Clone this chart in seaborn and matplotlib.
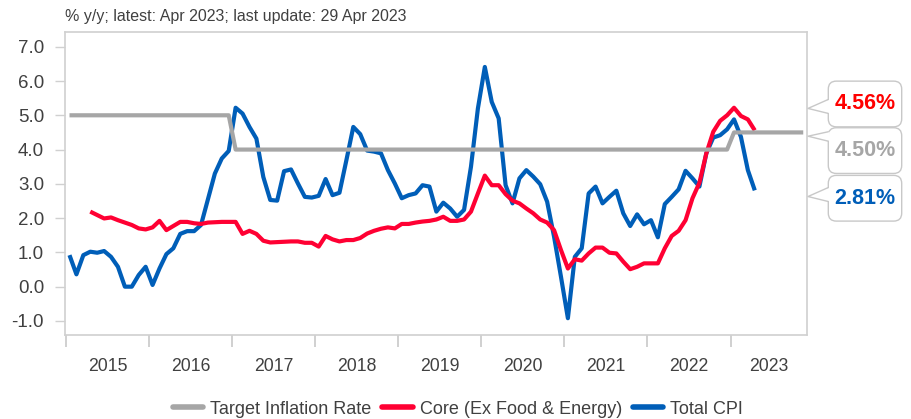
import numpy as np
import pandas as pd
import matplotlib
matplotlib.use('Agg')
import matplotlib.pyplot as plt
import seaborn as sns
from matplotlib.patches import FancyBboxPatch, Polygon
from matplotlib.lines import Line2D
from matplotlib.transforms import IdentityTransform

# monthly % y/y, Total CPI from Jan 2015, Core from Apr 2015, target from Jan 2015
total_cpi = [
    0.92, 0.36, 0.92, 1.02, 0.99, 1.04, 0.87, 0.58, 0.00, 0.00, 0.34, 0.58,
    0.05, 0.53, 0.95, 1.12, 1.54, 1.62, 1.62, 1.80, 2.55, 3.30, 3.74, 3.96,
    5.22, 5.05, 4.66, 4.32, 3.20, 2.53, 2.51, 3.37, 3.42, 3.01, 2.62, 2.60,
    2.65, 3.14, 2.67, 2.74, 3.69, 4.66, 4.45, 3.97, 3.94, 3.89, 3.40, 3.01,
    2.58, 2.67, 2.72, 2.96, 2.92, 2.19, 2.45, 2.28, 2.04, 2.24, 3.50, 5.20,
    6.41, 5.39, 4.91, 2.96, 2.43, 3.16, 3.40, 3.21, 2.99, 2.48, 1.46, 0.29,
    -0.92, 0.87, 1.12, 2.72, 2.92, 2.43, 2.62, 2.80, 2.14, 1.77, 2.11, 1.82,
    1.94, 1.44, 2.41, 2.62, 2.84, 3.38, 3.16, 2.92, 3.89, 4.35, 4.42, 4.59,
    4.88, 4.37, 3.40, 2.81,
]
core_cpi = [
    2.19, 2.09, 1.99, 2.02, 1.94, 1.87, 1.80, 1.70, 1.67,
    1.73, 1.92, 1.65, 1.77, 1.89, 1.89, 1.85, 1.83, 1.87, 1.88, 1.89, 1.89,
    1.89, 1.54, 1.63, 1.54, 1.34, 1.29, 1.30, 1.31, 1.32, 1.32, 1.28, 1.28,
    1.17, 1.48, 1.38, 1.32, 1.36, 1.36, 1.42, 1.55, 1.63, 1.69, 1.73, 1.70,
    1.83, 1.83, 1.87, 1.90, 1.92, 1.96, 2.04, 1.92, 1.92, 1.96, 2.19, 2.72,
    3.24, 2.96, 2.96, 2.70, 2.51, 2.43, 2.28, 2.14, 1.96, 1.87, 1.65, 1.07,
    0.53, 0.80, 0.76, 0.97, 1.14, 1.14, 0.99, 0.97, 0.73, 0.51, 0.58, 0.68,
    0.68, 0.68, 1.12, 1.48, 1.63, 1.94, 2.58, 3.03, 3.89, 4.52, 4.84, 5.00,
    5.22, 4.98, 4.88, 4.56,
]
target_rate = [
    5.0, 5.0, 5.0, 5.0, 5.0, 5.0, 5.0, 5.0, 5.0, 5.0, 5.0, 5.0,
    5.0, 5.0, 5.0, 5.0, 5.0, 5.0, 5.0, 5.0, 5.0, 5.0, 5.0, 5.0,
    4.0, 4.0, 4.0, 4.0, 4.0, 4.0, 4.0, 4.0, 4.0, 4.0, 4.0, 4.0,
    4.0, 4.0, 4.0, 4.0, 4.0, 4.0, 4.0, 4.0, 4.0, 4.0, 4.0, 4.0,
    4.0, 4.0, 4.0, 4.0, 4.0, 4.0, 4.0, 4.0, 4.0, 4.0, 4.0, 4.0,
    4.0, 4.0, 4.0, 4.0, 4.0, 4.0, 4.0, 4.0, 4.0, 4.0, 4.0, 4.0,
    4.0, 4.0, 4.0, 4.0, 4.0, 4.0, 4.0, 4.0, 4.0, 4.0, 4.0, 4.0,
    4.0, 4.0, 4.0, 4.0, 4.0, 4.0, 4.0, 4.0, 4.0, 4.0, 4.0, 4.0,
    4.5, 4.5, 4.5, 4.5, 4.5, 4.5, 4.5, 4.5, 4.5, 4.5, 4.5,
]
series_names = ['Target Inflation Rate', 'Core (Ex Food & Energy)', 'Total CPI']
series_colors = ['#a6a6a6', '#ff0033', '#005eb8']
label_colors = ['#ff0000', '#a6a6a6', '#005eb8']
year_labels = ['2015', '2016', '2017', '2018', '2019', '2020', '2021', '2022', '2023']
title_text = '% y/y; latest: Apr 2023; last update: 29 Apr 2023'


def month_pos(start, values):
    # months since Jan 2015, plotted mid-month
    per = pd.period_range(start, periods=len(values), freq='M')
    return (per.year - 2015) * 12 + per.month - 1 + 0.5


df = pd.concat([
    pd.DataFrame({'x': month_pos('2015-01', target_rate), 'value': target_rate, 'series': series_names[0]}),
    pd.DataFrame({'x': month_pos('2015-04', core_cpi), 'value': core_cpi, 'series': series_names[1]}),
    pd.DataFrame({'x': month_pos('2015-01', total_cpi), 'value': total_cpi, 'series': series_names[2]}),
])

sns.set_style('white')
plt.rcParams['font.family'] = ['Liberation Sans', 'DejaVu Sans']
plt.rcParams['axes.unicode_minus'] = False
text_col = '#404040'
line_col = '#d0d0d0'

fig = plt.figure(figsize=(9.12, 4.19), dpi=100)
ax = fig.add_axes([65 / 912, 1 - 335 / 419, (806.7 - 65) / 912, (335 - 32) / 419])

# draw blue first, gray last (on top)
for name, col, z in zip(series_names[::-1], series_colors[::-1], [2, 3, 4]):
    sns.lineplot(data=df[df['series'] == name], x='x', y='value', color=col, lw=3,
                 ax=ax, zorder=z, label=name, solid_capstyle='butt')

ax.set_xlim(-0.15, 107)
ax.set_ylim(-1.41, 7.43)
ax.set_xlabel('')
ax.set_ylabel('')

ax.set_yticks(np.arange(-1, 8))
ax.set_yticklabels([f'{v:.1f}' for v in np.arange(-1, 8)])
ax.set_xticks(np.arange(0, 108, 12))
ax.set_xticklabels([])
xmax = ax.get_xlim()[1]
centers = [12 * k + 6 for k in range(len(year_labels) - 1)] + [(96 + xmax) / 2]
ax.set_xticks(centers, minor=True)
ax.set_xticklabels(year_labels, minor=True)

ax.tick_params(axis='y', which='major', left=True, length=7.2, width=1, color=line_col,
               pad=7.9, labelsize=13.5, labelcolor=text_col)
ax.tick_params(axis='x', which='major', bottom=True, length=8.6, width=1.4, color=line_col)
ax.tick_params(axis='x', which='minor', bottom=True, length=0, pad=16.3, labelsize=12.7,
               labelcolor=text_col)
for s in ax.spines.values():
    s.set_color(line_col)
    s.set_linewidth(1.2)

# legend below the chart
leg_handles = [Line2D([], [], color=c, lw=4) for c in series_colors]
ax.get_legend().remove()
fig.legend(leg_handles, series_names, loc='center', bbox_to_anchor=(458 / 912, 1 - 409 / 419),
           ncol=3, frameon=False, fontsize=13, handlelength=1.67, handletextpad=0.39,
           columnspacing=0.6, labelcolor=text_col)

fig.text(65 / 912, 1 - 20.7 / 419, title_text, fontsize=11.5, color=text_col, va='baseline')

# callouts with the latest values
latest = [core_cpi[-1], target_rate[len(total_cpi) - 1], total_cpi[-1]]
box_y = [5.33, 3.97, 2.58]
tip_y = [5.20, 4.39, 2.63]
box_x0, box_w, box_h, tip_x = 828.3, 73.4, 45.7, 808.0
ident = IdentityTransform()
for v, col, by, ty in zip(latest, label_colors, box_y, tip_y):
    cy = ax.transData.transform((0, by))[1]
    ty_px = ax.transData.transform((0, ty))[1]
    y0 = cy - box_h / 2
    fig.add_artist(FancyBboxPatch((box_x0, y0), box_w, box_h,
                                  boxstyle='round,pad=0,rounding_size=8',
                                  fc='white', ec='#c8c8c8', lw=1, transform=ident))
    b_top = min(ty_px + 9, y0 + box_h - 4)
    b_bot = max(ty_px - 5, y0 + 4)
    fig.add_artist(Polygon([(box_x0 + 1.5, b_top), (tip_x, ty_px), (box_x0 + 1.5, b_bot)],
                           closed=True, fc='white', ec='none', transform=ident))
    fig.add_artist(Line2D([box_x0, tip_x, box_x0], [b_top, ty_px, b_bot],
                          color='#c8c8c8', lw=1, transform=ident))
    fig.text((box_x0 + box_w / 2) / 912, cy / 419, f'{v:.2f}%', color=col,
             fontsize=15.5, fontweight='bold', ha='center', va='center')

fig.savefig('out.png', dpi=100)
